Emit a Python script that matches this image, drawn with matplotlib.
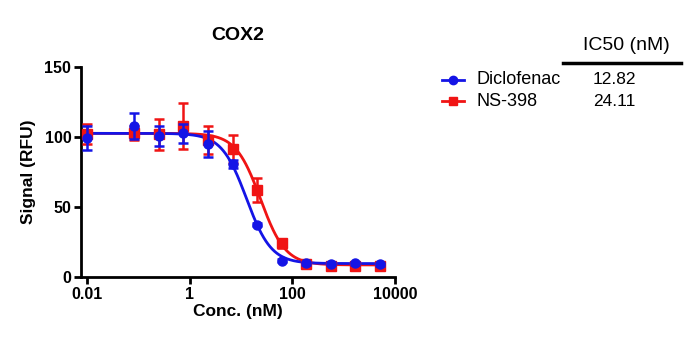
import numpy as np
import matplotlib
matplotlib.use("Agg")
import matplotlib.pyplot as plt

plt.rcParams['font.family'] = ['Liberation Sans', 'DejaVu Sans']

# Concentrations (nM); first point is the lowest/control concentration
conc = [0.01, 0.0847, 0.254, 0.762, 2.29, 6.86, 20.6, 61.7, 185, 556, 1667, 5000]

diclofenac_mean = [99.3, 107.7, 100.5, 102.4, 95.2, 80.4, 37.3, 11.5, 9.8, 9.5, 9.8, 9.1]
diclofenac_err = [8.6, 9.0, 7.0, 7.0, 9.3, 3.0, 1.0, 1.0, 1.0, 1.0, 1.0, 1.0]

ns398_mean = [102.0, 102.4, 101.9, 107.7, 97.6, 91.1, 62.2, 23.9, 9.5, 7.9, 7.9, 7.9]
ns398_err = [7.0, 5.0, 11.0, 16.5, 10.0, 10.0, 8.7, 3.0, 1.5, 1.0, 1.0, 1.0]

# 4-parameter logistic fit parameters
series_names = ["Diclofenac", "NS-398"]
ic50_values = [12.82, 24.11]
fit_top = [102.5, 102.5]
fit_bottom = [9.5, 8.5]
fit_hill = [1.8, 1.8]

x_ticks = [0.01, 1, 100, 10000]
x_tick_labels = ["0.01", "1", "100", "10000"]
y_ticks = [0, 50, 100, 150]

colors = ["#1414e6", "#f01414"]
markers = ["o", "s"]

fig = plt.figure(figsize=(7, 3.5), dpi=100)
ax = fig.add_axes([0.1157, 0.209, 0.4486, 0.6])

xs = np.logspace(np.log10(0.01), np.log10(5000), 400)
means = [diclofenac_mean, ns398_mean]
errs = [diclofenac_err, ns398_err]
# draw red first, then blue on top
for i in [1, 0]:
    c = colors[i]
    y = fit_bottom[i] + (fit_top[i] - fit_bottom[i]) / (1 + (xs / ic50_values[i]) ** fit_hill[i])
    ax.plot(xs, y, color=c, lw=2.0, zorder=2 + (1 - i))
    ax.errorbar(conc, means[i], yerr=errs[i], fmt=markers[i], color=c, ms=6.5,
                elinewidth=1.8, capsize=3.8, capthick=1.8, zorder=3 + (1 - i))

ax.set_xscale('log')
ax.set_xlim(0.0077, 10000)
ax.set_ylim(0, 150)
ax.set_xticks(x_ticks)
ax.set_xticklabels(x_tick_labels)
ax.xaxis.set_minor_locator(matplotlib.ticker.NullLocator())
ax.set_yticks(y_ticks)
for s in ['top', 'right']:
    ax.spines[s].set_visible(False)
for s in ['left', 'bottom']:
    ax.spines[s].set_linewidth(2.0)
ax.tick_params(width=2.0, length=5, labelsize=11.5, pad=2)
for lab in ax.get_xticklabels() + ax.get_yticklabels():
    lab.set_fontweight('bold')

ax.set_title("COX2", fontsize=14, fontweight='bold', pad=19)
ax.set_xlabel("Conc. (nM)", fontsize=12.5, fontweight='bold', labelpad=2)
ax.set_ylabel("Signal (RFU)", fontsize=12.5, fontweight='bold', labelpad=6)

# Legend and IC50 table
legend_y = [80, 101]
for i in range(2):
    yf = 1 - legend_y[i] / 350
    fig.add_artist(plt.Line2D([442 / 700, 464 / 700], [yf, yf], color=colors[i], lw=2,
                              transform=fig.transFigure))
    fig.add_artist(plt.Line2D([453 / 700], [yf], color=colors[i], marker=markers[i], ms=6,
                              linestyle='none', transform=fig.transFigure))
    fig.text(477 / 700, yf, series_names[i], fontsize=13, va='center', ha='left')
    fig.text(614 / 700, yf, f"{ic50_values[i]:.2f}", fontsize=12.5, va='center', ha='center')

fig.text(626 / 700, 1 - 45 / 350, "IC50 (nM)", fontsize=14, va='center', ha='center')
fig.add_artist(plt.Line2D([563 / 700, 681 / 700], [1 - 63 / 350, 1 - 63 / 350], color='black', lw=2.5,
                          transform=fig.transFigure))

fig.savefig("out.png", dpi=100)
